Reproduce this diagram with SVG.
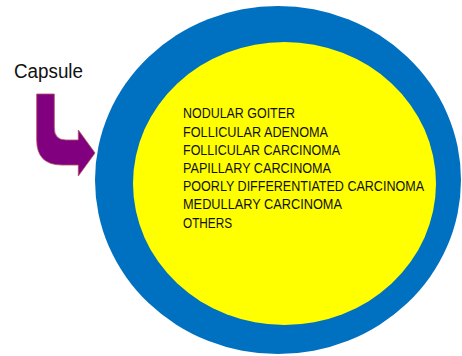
<svg xmlns="http://www.w3.org/2000/svg" width="462" height="356" viewBox="0 0 462 356">
<style>
.lbl{font-family:"Liberation Sans",Arial,sans-serif;font-size:14px;fill:#111;}
.cap{font-family:"Liberation Sans",Arial,sans-serif;font-size:19.5px;fill:#111;}
</style>
<rect width="462" height="356" fill="#fff"/>
<g id="capsule">
<ellipse cx="278" cy="180" rx="183" ry="174" fill="#0070C0"/>
</g>
<g id="contents">
<ellipse cx="284.5" cy="183.5" rx="151.5" ry="141.5" fill="#FFFF00"/>
<text class="lbl" x="183" y="118.3" textLength="112" lengthAdjust="spacingAndGlyphs">NODULAR GOITER</text>
<text class="lbl" x="183" y="136.5" textLength="145" lengthAdjust="spacingAndGlyphs">FOLLICULAR ADENOMA</text>
<text class="lbl" x="183" y="154.7" textLength="157" lengthAdjust="spacingAndGlyphs">FOLLICULAR CARCINOMA</text>
<text class="lbl" x="183" y="172.9" textLength="148" lengthAdjust="spacingAndGlyphs">PAPILLARY CARCINOMA</text>
<text class="lbl" x="183" y="191.1" textLength="241" lengthAdjust="spacingAndGlyphs">POORLY DIFFERENTIATED CARCINOMA</text>
<text class="lbl" x="183" y="209.3" textLength="159" lengthAdjust="spacingAndGlyphs">MEDULLARY CARCINOMA</text>
<text class="lbl" x="183" y="227.5" textLength="49" lengthAdjust="spacingAndGlyphs">OTHERS</text>
</g>
<g id="label">
<text class="cap" x="14" y="78" textLength="69" lengthAdjust="spacingAndGlyphs">Capsule</text>
</g>
<g id="connectors">
<path d="M36.7,94 L54.3,94 L54.3,128 Q54.3,140 66,140 L78.3,140 L78.3,130 L95,153 L78.3,176 L78.3,165 L62,165 Q36.7,165 36.7,140 Z" fill="#800080" stroke="#B0505A" stroke-width="0.8"/>
</g>
</svg>
